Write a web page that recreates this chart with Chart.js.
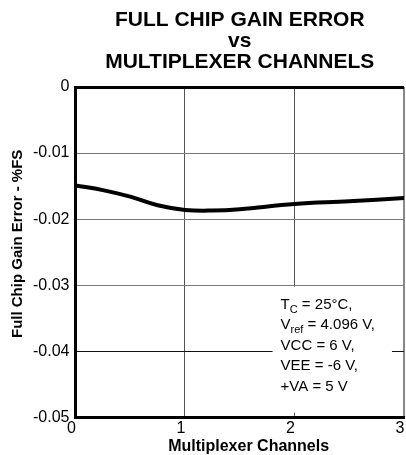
<!DOCTYPE html>
<html>
<head>
<meta charset="utf-8">
<script src="https://cdn.jsdelivr.net/npm/chart.js@4/dist/chart.umd.min.js"></script>
<style>
body{margin:0;background:#fff}
#wrap{width:406px;height:455px}
</style>
</head>
<body>
<div id="wrap"><canvas id="gainChart" width="406" height="455"></canvas></div>
<script>
// values
const channels = [0, 0.25, 0.5, 0.75, 1, 1.25, 1.5, 2, 2.5, 3]
const gainError = [-0.0149, -0.0156, -0.0166, -0.0179, -0.0186, -0.0187, -0.0185, -0.0177, -0.0173, -0.0168]

const xTicks = [0, 1, 2, 3]
const yTicks = [-0.05, -0.04, -0.03, -0.02, -0.01, 0]

const titleLines = ["FULL CHIP GAIN ERROR", "vs", "MULTIPLEXER CHANNELS"]
// leading spaces nudge the axis titles off-centre like in the original
const xTitle = "    Multiplexer Channels"
const yTitle = "    Full Chip Gain Error - %FS"

// test conditions, [text, isSubscript]
const notes = [
[["T", false], ["C", true], [" = 25°C,", false]],
[["V", false], ["ref", true], [" = 4.096 V,", false]],
[["VCC = 6 V,", false]],
[["VEE = -6 V,", false]],
[["+VA = 5 V", false]]
]

Chart.defaults.font.family = "Arial, 'Liberation Sans', sans-serif"
Chart.defaults.color = "#000"

const notesBox = {
id: "notesBox",
beforeDatasetsDraw(chart){
const ctx = chart.ctx
const xs = chart.scales.x
const ys = chart.scales.y
const left = xs.getPixelForValue(1.8)
const right = xs.getPixelForValue(2.89)
const top = ys.getPixelForValue(-0.0302)
const bottom = ys.getPixelForValue(-0.0493)
ctx.save()
ctx.fillStyle = "#fff"
ctx.fillRect(left, top, right - left, bottom - top)
ctx.fillStyle = "#000"
ctx.textBaseline = "alphabetic"
let y = top + 22
notes.forEach(line => {
let x = left + 8
line.forEach(([txt, sub]) => {
ctx.font = (sub ? "11px " : "15px ") + Chart.defaults.font.family
ctx.fillText(txt, x, sub ? y + 4 : y)
x += ctx.measureText(txt).width
})
y += 20.5
})
ctx.restore()
}
}

new Chart(document.getElementById("gainChart"), {
type: "line",
data: {
datasets: [{
data: channels.map((c, i) => ({x: c, y: gainError[i]})),
borderColor: "#000",
borderWidth: 4,
pointRadius: 0,
tension: 0.4,
fill: false
}]
},
options: {
responsive: false,
animation: false,
layout: {padding: {left: 0, right: 2, top: 0, bottom: 0}},
plugins: {
legend: {display: false},
tooltip: {enabled: false},
title: {
display: true,
text: titleLines,
fullSize: false,
color: "#000",
font: {size: 21, weight: "bold", lineHeight: 1},
padding: {top: 9.5, bottom: 14.5}
}
},
scales: {
x: {
type: "linear",
min: 0,
max: 3,
afterBuildTicks: s => { s.ticks = xTicks.map(v => ({value: v})) },
afterFit: s => { s.paddingLeft = 0; s.paddingRight = 0 },
ticks: {font: {size: 16, lineHeight: 1.1}, padding: 2, labelOffset: -4},
grid: {
drawTicks: false,
color: c => c.tick && c.tick.value === 3 ? "#888" : "#555",
lineWidth: c => c.tick && c.tick.value === 3 ? 2 : 1
},
border: {color: "#000", width: 3},
title: {display: true, text: xTitle, font: {size: 16, weight: "bold", lineHeight: 1}, padding: {top: 0, bottom: 0}}
},
y: {
min: -0.05,
max: 0,
afterBuildTicks: s => { s.ticks = yTicks.map(v => ({value: v})) },
ticks: {font: {size: 16}, padding: 6, callback: v => v === 0 ? "0" : v.toFixed(2)},
grid: {
drawTicks: false,
color: c => {
if (!c.tick) return "#777"
if (c.tick.value === 0) return "#000"
if (c.tick.value === -0.04) return "#111"
return "#777"
},
lineWidth: c => c.tick && c.tick.value === 0 ? 3 : 1
},
border: {color: "#000", width: 3},
title: {display: true, text: yTitle, font: {size: 15, weight: "bold"}, padding: {top: 9, bottom: 0}}
}
}
},
plugins: [notesBox]
})
</script>
</body>
</html>
